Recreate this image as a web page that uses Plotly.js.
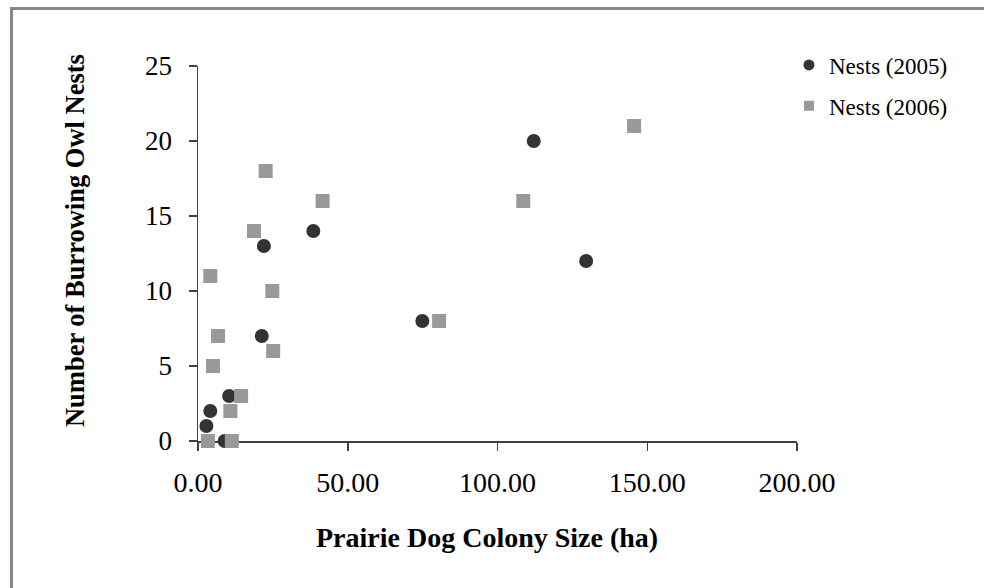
<!DOCTYPE html>
<html>
<head>
<meta charset="utf-8">
<script src="https://cdn.plot.ly/plotly-3.0.1.min.js"></script>
<style>
  html, body { margin: 0; padding: 0; background: #ffffff; }
  #wrap { position: relative; width: 984px; height: 588px; overflow: hidden; }
  #chart { position: absolute; left: 0; top: 0; width: 984px; height: 588px; }
  .frameTop { position: absolute; left: 10px; top: 7px; width: 974px; height: 3px; background: #878787; }
  .frameLeft { position: absolute; left: 10px; top: 7px; width: 3px; height: 581px; background: #878787; }
</style>
</head>
<body>
<div id="wrap">
  <div id="chart"></div>
  <div class="frameTop"></div>
  <div class="frameLeft"></div>
</div>
<script>
// Data
var colony2005 = [2.8, 4.1, 10.4, 8.9, 22.0, 21.3, 38.5, 74.9, 112.1, 129.6];
var nests2005  = [1,   2,   3,    0,   13,   7,    14,   8,    20,    12];

var colony2006 = [3.3, 11.3, 10.8, 14.4, 5.0, 6.7, 4.1, 18.7, 22.6, 24.8, 25.1, 41.6, 80.5, 108.6, 145.6];
var nests2006  = [0,   0,    2,    3,    5,   7,   11,  14,   18,   10,   6,    16,   8,    16,    21];

var seriesNames = ['Nests (2005)', 'Nests (2006)'];
var xTickVals = [0, 50, 100, 150, 200];
var yTickVals = [0, 5, 10, 15, 20, 25];
var xTitle = 'Prairie Dog Colony Size (ha)';
var yTitle = 'Number of Burrowing Owl Nests';

var serif = '"Liberation Serif", "Times New Roman", serif';

var traces = [
  {
    x: colony2005, y: nests2005, type: 'scatter', mode: 'markers',
    name: seriesNames[0], showlegend: false, cliponaxis: false,
    marker: { symbol: 'circle', size: 14, color: '#333333' }
  },
  {
    x: colony2006, y: nests2006, type: 'scatter', mode: 'markers',
    name: seriesNames[1], showlegend: false, cliponaxis: false,
    marker: { symbol: 'square', size: 14, color: '#999999' }
  },
  // legend entries (smaller symbols as in reference)
  {
    x: [null], y: [null], type: 'scatter', mode: 'markers',
    name: seriesNames[0], legendgroup: 'a',
    marker: { symbol: 'circle', size: 11, color: '#333333' }
  },
  {
    x: [null], y: [null], type: 'scatter', mode: 'markers',
    name: seriesNames[1], legendgroup: 'b',
    marker: { symbol: 'square', size: 10, color: '#999999' }
  }
];

var layout = {
  width: 984, height: 588,
  margin: { l: 198, r: 187, t: 66, b: 147, pad: 0 },
  paper_bgcolor: '#ffffff', plot_bgcolor: '#ffffff',
  font: { family: serif, color: '#000000' },
  showlegend: true,
  legend: {
    x: 0.9866, xanchor: 'left', y: 1.06, yanchor: 'top',
    bgcolor: 'rgba(0,0,0,0)', borderwidth: 0,
    font: { family: serif, size: 23, color: '#000000' },
    tracegroupgap: 8, itemwidth: 30
  },
  xaxis: {
    range: [0, 200], tickvals: xTickVals, tickformat: '.2f',
    showgrid: false, zeroline: false, showline: true,
    linecolor: '#404040', linewidth: 1.5,
    ticks: 'outside', ticklen: 8, tickwidth: 1.5, tickcolor: '#404040',
    tickfont: { family: serif, size: 28, color: '#000000' },
    ticklabelstandoff: 8,
    layer: 'below traces',
    automargin: false,
    title: { text: '' }
  },
  yaxis: {
    range: [0, 25], tickvals: yTickVals,
    showgrid: false, zeroline: false, showline: true,
    linecolor: '#404040', linewidth: 1.5,
    ticks: 'outside', ticklen: 8, tickwidth: 1.5, tickcolor: '#404040',
    tickfont: { family: serif, size: 27, color: '#000000' },
    ticklabelstandoff: 11,
    layer: 'below traces',
    automargin: false,
    title: { text: '' }
  },
  annotations: [
    {
      text: '<b>' + xTitle + '</b>', xref: 'paper', yref: 'paper',
      x: 0.4833, y: -0.256, xanchor: 'center', yanchor: 'middle', showarrow: false,
      font: { family: serif, size: 28, color: '#000000' }
    },
    {
      text: '<b>' + yTitle + '</b>', xref: 'paper', yref: 'paper',
      x: -0.2053, y: 0.5333, xanchor: 'center', yanchor: 'middle', showarrow: false,
      textangle: -90,
      font: { family: serif, size: 26.5, color: '#000000' }
    }
  ]
};

Plotly.newPlot('chart', traces, layout, { displayModeBar: false, staticPlot: true });
</script>
</body>
</html>
